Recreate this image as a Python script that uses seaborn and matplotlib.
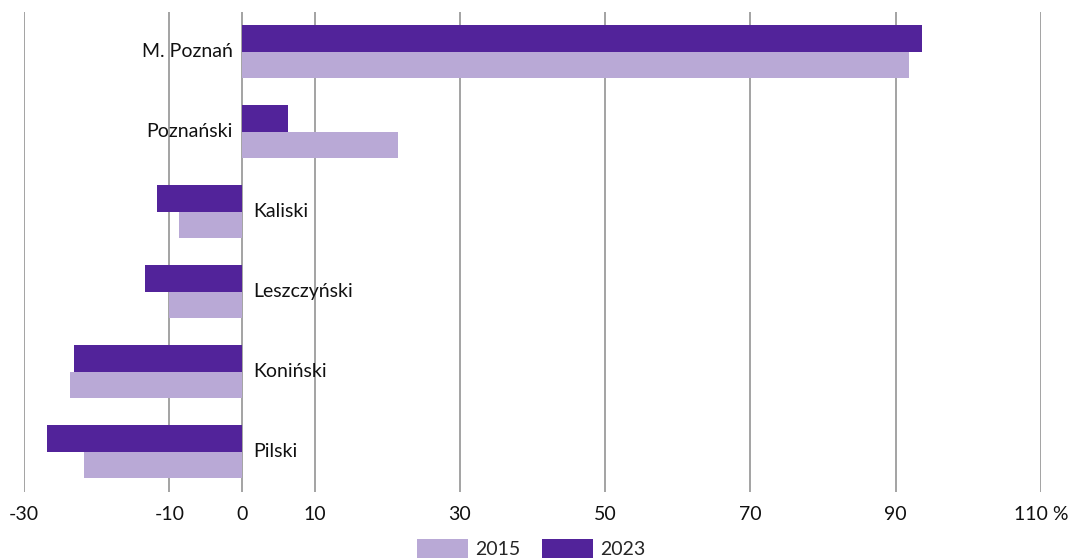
import matplotlib
matplotlib.use("Agg")
import matplotlib.pyplot as plt
from matplotlib.patches import Patch
import seaborn as sns
import pandas as pd

regions = ["M. Poznań", "Poznański", "Kaliski", "Leszczyński", "Koniński", "Pilski"]
values_2015 = [91.8, 21.5, -8.6, -10.1, -23.6, -21.8]
values_2023 = [93.6, 6.3, -11.7, -13.3, -23.1, -26.9]
years = ["2015", "2023"]
x_ticks = [-30, -10, 0, 10, 30, 50, 70, 90, 110]
x_tick_labels = ["-30", "-10", "0", "10", "30", "50", "70", "90", "110 %"]

colors = {"2015": "#b9a9d6", "2023": "#52239a"}

df = pd.DataFrame({
    "region": regions * 2,
    "year": ["2015"] * len(regions) + ["2023"] * len(regions),
    "value": values_2015 + values_2023,
})

sns.set_theme(style="white")
plt.rcParams["font.family"] = ["Lato", "DejaVu Sans"]
FS = 14

fig = plt.figure(figsize=(10.77, 5.58), dpi=100)
ax = fig.add_axes([24 / 1077, 1 - 491.7 / 558, (1041 - 24) / 1077, 480 / 558])

sns.barplot(data=df, y="region", x="value", hue="year", hue_order=["2023", "2015"],
            order=regions, palette=colors, orient="h", width=0.66,
            saturation=1, ax=ax, legend=False, linewidth=0)

ax.set_xlim(-30, 110)
ax.set_ylim(len(regions) - 0.5, -0.5)
ax.set_xticks(x_ticks)
ax.set_xticklabels(x_tick_labels, fontsize=FS, color="#111111")
ax.set_yticks([])
ax.set_xlabel("")
ax.set_ylabel("")
ax.tick_params(axis="x", length=0, pad=10)
for s in ax.spines.values():
    s.set_visible(False)

for t in x_ticks:
    ax.axvline(t, color="#8a8a8a", linewidth=1.1, zorder=0)
ax.set_axisbelow(True)

# region names sit beside the zero line, on the side away from the bars
for i, (name, v) in enumerate(zip(regions, values_2023)):
    if v >= 0:
        ax.text(-1.3, i, name, ha="right", va="center", fontsize=FS, color="#111111")
    else:
        ax.text(1.6, i, name, ha="left", va="center", fontsize=FS, color="#111111")

handles = [Patch(facecolor=colors[y], edgecolor="none", label=y) for y in years]
fig.legend(handles=handles, loc="lower center", bbox_to_anchor=(0.4935, 0.0), ncol=2,
           frameon=False, fontsize=FS, handlelength=2.62, handleheight=1.08,
           handletextpad=0.38, columnspacing=1.1, borderpad=0.0, borderaxespad=0.0)

fig.savefig("out.png", dpi=100, facecolor="white")
